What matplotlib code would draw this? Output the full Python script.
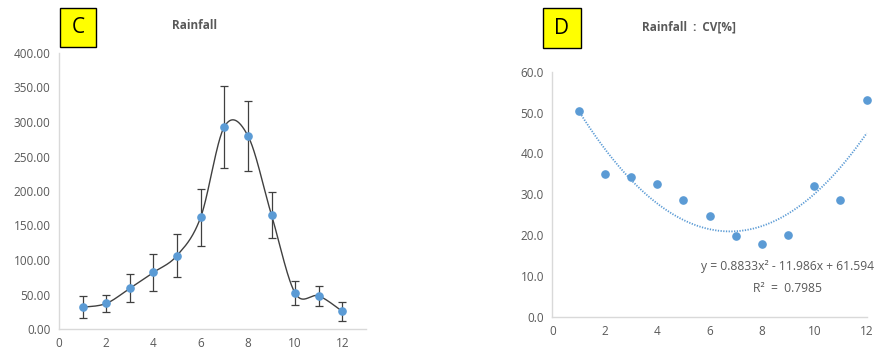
import numpy as np
import matplotlib
matplotlib.use("Agg")
import matplotlib.pyplot as plt
from matplotlib.patches import Rectangle

plt.rcParams['font.family'] = ['Open Sans', 'DejaVu Sans']

# Monthly rainfall: mean and error (±)
months = [1, 2, 3, 4, 5, 6, 7, 8, 9, 10, 11, 12]
rain_mean = [31.5, 37.0, 59.0, 82.0, 106.5, 162.0, 293.0, 280.0, 165.0, 52.0, 48.0, 25.5]
rain_err = [16.0, 13.0, 20.5, 27.0, 31.0, 41.0, 59.0, 51.0, 33.0, 17.0, 14.0, 14.0]

# Coefficient of variation of monthly rainfall [%]
rain_cv = [50.4, 35.0, 34.2, 32.5, 28.6, 24.7, 19.7, 17.8, 20.1, 32.0, 28.6, 53.1]

# Second-order polynomial trendline
trend_a, trend_b, trend_c = 0.8833, -11.986, 61.594
trend_r2 = 0.7985

left_ticks = [0, 50, 100, 150, 200, 250, 300, 350, 400]
right_ticks = [0, 10, 20, 30, 40, 50, 60]
x_ticks = [0, 2, 4, 6, 8, 10, 12]

BLUE = '#5B9BD5'
TXT = '#595959'
AXIS = '#D9D9D9'
DARK = '#404040'


def smooth_curve(x, y, n=40):
    """Bezier smoothing through the points (Catmull-Rom style)."""
    x = np.asarray(x, float)
    y = np.asarray(y, float)
    pts = np.column_stack([x, y])
    ext = np.vstack([pts[0], pts, pts[-1]])
    out = []
    t = np.linspace(0, 1, n)[:, None]
    for i in range(len(pts) - 1):
        p0, p1, p2, p3 = ext[i], ext[i + 1], ext[i + 2], ext[i + 3]
        c1 = p1 + (p2 - p0) / 6.0
        c2 = p2 - (p3 - p1) / 6.0
        seg = ((1 - t) ** 3) * p1 + 3 * ((1 - t) ** 2) * t * c1 + 3 * (1 - t) * t ** 2 * c2 + t ** 3 * p2
        out.append(seg if i == 0 else seg[1:])
    seg = np.vstack(out)
    return seg[:, 0], seg[:, 1]


def style_axes(ax):
    for s in ['top', 'right']:
        ax.spines[s].set_visible(False)
    for s in ['left', 'bottom']:
        ax.spines[s].set_color(AXIS)
        ax.spines[s].set_linewidth(1.0)
    ax.tick_params(length=0, labelsize=8.5, labelcolor=TXT, pad=6)


def panel_tag(fig, x0, y0, x1, y1, letter):
    W, H = 878, 354
    r = Rectangle((x0 / W, 1 - y1 / H), (x1 - x0) / W, (y1 - y0) / H,
                  transform=fig.transFigure, facecolor='#FFFF00',
                  edgecolor='black', linewidth=1.0)
    fig.patches.append(r)
    fig.text((x0 + x1) / 2 / W, 1 - (y0 + y1) / 2 / H, letter,
             ha='center', va='center', fontsize=15, color='black')


fig = plt.figure(figsize=(8.78, 3.54), dpi=100)
W, H = 878, 354

# Panel C: rainfall with error bars and smoothed line
ax1 = fig.add_axes([59 / W, 1 - 329 / H, (366 - 59) / W, (329 - 53) / H])
sx, sy = smooth_curve(months, rain_mean)
ax1.plot(sx, sy, color=DARK, linewidth=1.0, zorder=2)
ax1.errorbar(months, rain_mean, yerr=rain_err, fmt='none', ecolor=DARK,
             elinewidth=0.9, capsize=2.7, capthick=0.9, zorder=2)
ax1.plot(months, rain_mean, 'o', color=BLUE, markersize=5.2, zorder=3, clip_on=False)
ax1.set_xlim(0, 13)
ax1.set_ylim(0, 400)
ax1.set_yticks(left_ticks)
ax1.set_yticklabels([f'{v:.2f}' for v in left_ticks])
ax1.set_xticks(x_ticks)
style_axes(ax1)
fig.text(194.5 / W, 1 - 25.7 / H, 'Rainfall', ha='center', va='center',
         fontsize=8.5, fontweight='bold', color=TXT)
panel_tag(fig, 60, 8, 96, 47, 'C')

# Panel D: coefficient of variation with polynomial trendline
ax2 = fig.add_axes([552.3 / W, 1 - 317 / H, (866.7 - 552.3) / W, (317 - 71.7) / H])
tx = np.linspace(months[0], months[-1], 200)
ty = trend_a * tx ** 2 + trend_b * tx + trend_c
ax2.plot(tx, ty, color=BLUE, linewidth=1.3, linestyle=(0, (0.7, 0.8)),
         zorder=2, clip_on=False)
ax2.plot(months, rain_cv, 'o', color=BLUE, markersize=5.2, zorder=3, clip_on=False)
ax2.set_xlim(0, 12)
ax2.set_ylim(0, 60)
ax2.set_yticks(right_ticks)
ax2.set_yticklabels([f'{v:.1f}' for v in right_ticks])
ax2.set_xticks(x_ticks)
style_axes(ax2)
fig.text(787.5 / W, 1 - 266.7 / H,
         f'y = {trend_a}x² - {abs(trend_b)}x + {trend_c}',
         ha='center', va='center', fontsize=8.7, color=TXT)
fig.text(788 / W, 1 - 288.7 / H, f'R²  =  {trend_r2}',
         ha='center', va='center', fontsize=8.7, color=TXT)
fig.text(689 / W, 1 - 27.3 / H, 'Rainfall  :  CV[%]', ha='center', va='center',
         fontsize=8.5, fontweight='bold', color=TXT)
panel_tag(fig, 543, 8, 581, 48, 'D')

fig.savefig('out.png', dpi=100, facecolor='white')
